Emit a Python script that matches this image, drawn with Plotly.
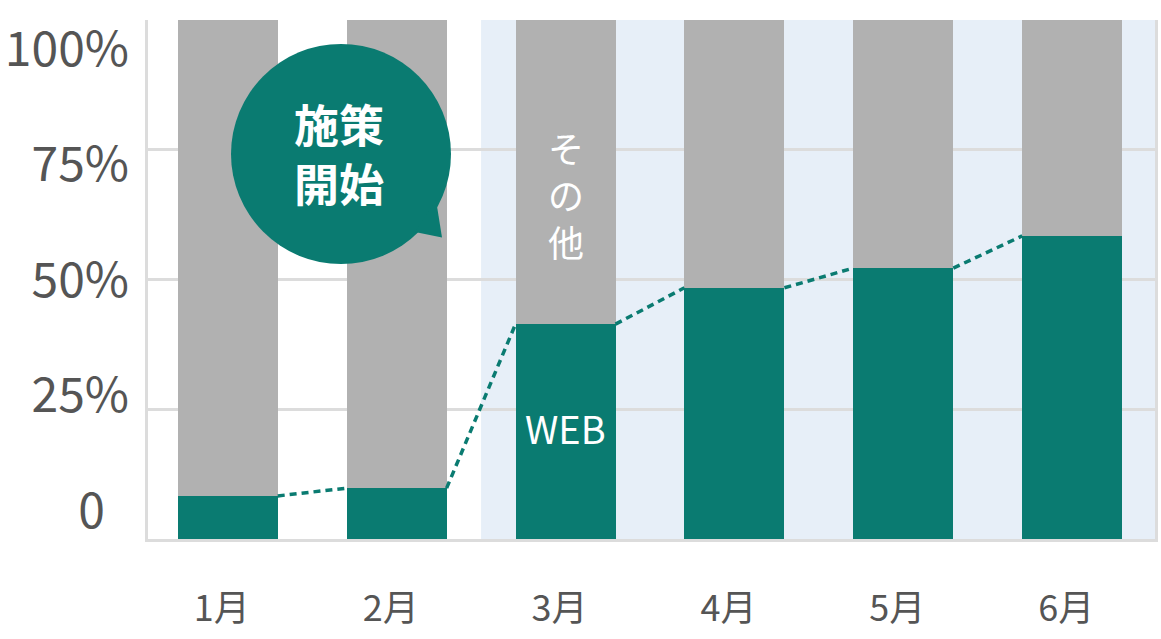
import plotly.graph_objects as go

# ---- data ----
months = ["1月", "2月", "3月", "4月", "5月", "6月"]
web_share = [8.3, 9.8, 41.4, 48.4, 52.2, 58.4]
other_share = [round(100 - v, 1) for v in web_share]
y_tick_vals = [0, 25, 50, 75, 100]
y_tick_text = ["0\u2002", "25%", "50%", "75%", "100%"]
grid_vals = [25, 50, 75]
campaign_start_index = 2  # 3月

# ---- style ----
GREEN = "#0a7b71"
GRAY = "#b1b1b1"
BLUE_BG = "#e7eff8"
GRID = "#dcdcdc"
TEXT = "#555555"
FONT = "Noto Sans CJK JP"

PL, PR, PT, PB = 148, 1155, 20, 539
W, H = 1161, 639
def px_x(px):
    return (px - PL) / (PR - PL)
def px_y(py):
    return (PB - py) / (PB - PT)

xs = list(range(len(months)))
bar_w = 0.592
x_min, x_max = -0.472, 5.49

fig = go.Figure()
fig.add_trace(go.Bar(x=xs, y=web_share, width=bar_w, marker=dict(color=GREEN, line=dict(width=0)),
                     name="WEB", hoverinfo="skip"))
fig.add_trace(go.Bar(x=xs, y=other_share, width=bar_w, marker=dict(color=GRAY, line=dict(width=0)),
                     name="その他", hoverinfo="skip"))

# dotted connector between bar tops
lx, ly = [], []
for i in range(len(xs) - 1):
    lx += [xs[i] + bar_w / 2, xs[i + 1] - bar_w / 2, None]
    ly += [web_share[i], web_share[i + 1], None]
fig.add_trace(go.Scatter(x=lx, y=ly, mode="lines", line=dict(color=GREEN, width=3.5, dash="7px,5px"),
                         hoverinfo="skip", showlegend=False, connectgaps=False))

# invisible trace to activate label axis
fig.add_trace(go.Scatter(x=[0], y=[50], yaxis="y2", mode="markers", opacity=0,
                         hoverinfo="skip", showlegend=False))

shapes = [
    dict(type="rect", xref="x", yref="paper", x0=campaign_start_index - 0.5, x1=x_max, y0=0, y1=1,
         fillcolor=BLUE_BG, line=dict(width=0), layer="below"),
    dict(type="circle", xref="paper", yref="paper",
         x0=px_x(231), x1=px_x(451), y0=px_y(264), y1=px_y(44),
         fillcolor=GREEN, line=dict(width=0), layer="above"),
    dict(type="path", xref="paper", yref="paper",
         path="M {} {} L {} {} L {} {} Z".format(px_x(436), px_y(200), px_x(442), px_y(237.5), px_x(415), px_y(232)),
         fillcolor=GREEN, line=dict(width=0), layer="above"),
]

annotations = [
    dict(xref="paper", yref="paper", x=px_x(339), y=px_y(153), text="<b>施策<br>開始</b>", showarrow=False,
         font=dict(family=FONT, size=45, color="white"), xanchor="center", yanchor="middle"),
    dict(xref="x", yref="paper", x=campaign_start_index, y=px_y(194), text="そ<br>の<br>他", showarrow=False,
         font=dict(family=FONT, size=36, color="white"), xanchor="center", yanchor="middle"),
    dict(xref="x", yref="paper", x=campaign_start_index, y=px_y(427), text="WEB", showarrow=False,
         font=dict(family=FONT, size=38, color="white"), xanchor="center", yanchor="middle"),
]

fig.update_layout(
    width=W, height=H,
    margin=dict(l=PL, r=W - PR, t=PT, b=H - PB, pad=0, autoexpand=False),
    paper_bgcolor="white", plot_bgcolor="white",
    barmode="stack", bargap=0,
    showlegend=False,
    shapes=shapes, annotations=annotations,
    font=dict(family=FONT, color=TEXT),
    xaxis=dict(range=[x_min, x_max], tickvals=xs, ticktext=months, showgrid=False, zeroline=False,
               showline=True, linecolor=GRID, linewidth=3, ticks="", ticklabelstandoff=36,
               ticklabelshift=-6, tickfont=dict(family=FONT, size=36, color=TEXT), fixedrange=True,
               automargin=False),
    yaxis=dict(range=[0, 100], tickvals=grid_vals, showticklabels=False, showgrid=True, gridcolor=GRID,
               gridwidth=3, zeroline=False, showline=True, mirror=True, linecolor=GRID, linewidth=3,
               ticks="", fixedrange=True, automargin=False),
    yaxis2=dict(overlaying="y", side="left", range=[-6.11, 106.28], tickvals=y_tick_vals, ticktext=y_tick_text,
                showgrid=False, zeroline=False, showline=False, ticks="", ticklabelstandoff=18,
                tickfont=dict(family=FONT, size=48, color=TEXT), fixedrange=True, automargin=False),
)

fig.write_html("out.html", config={"displayModeBar": False},
               post_script="document.body.style.margin='0px';document.documentElement.style.overflow='hidden';")
